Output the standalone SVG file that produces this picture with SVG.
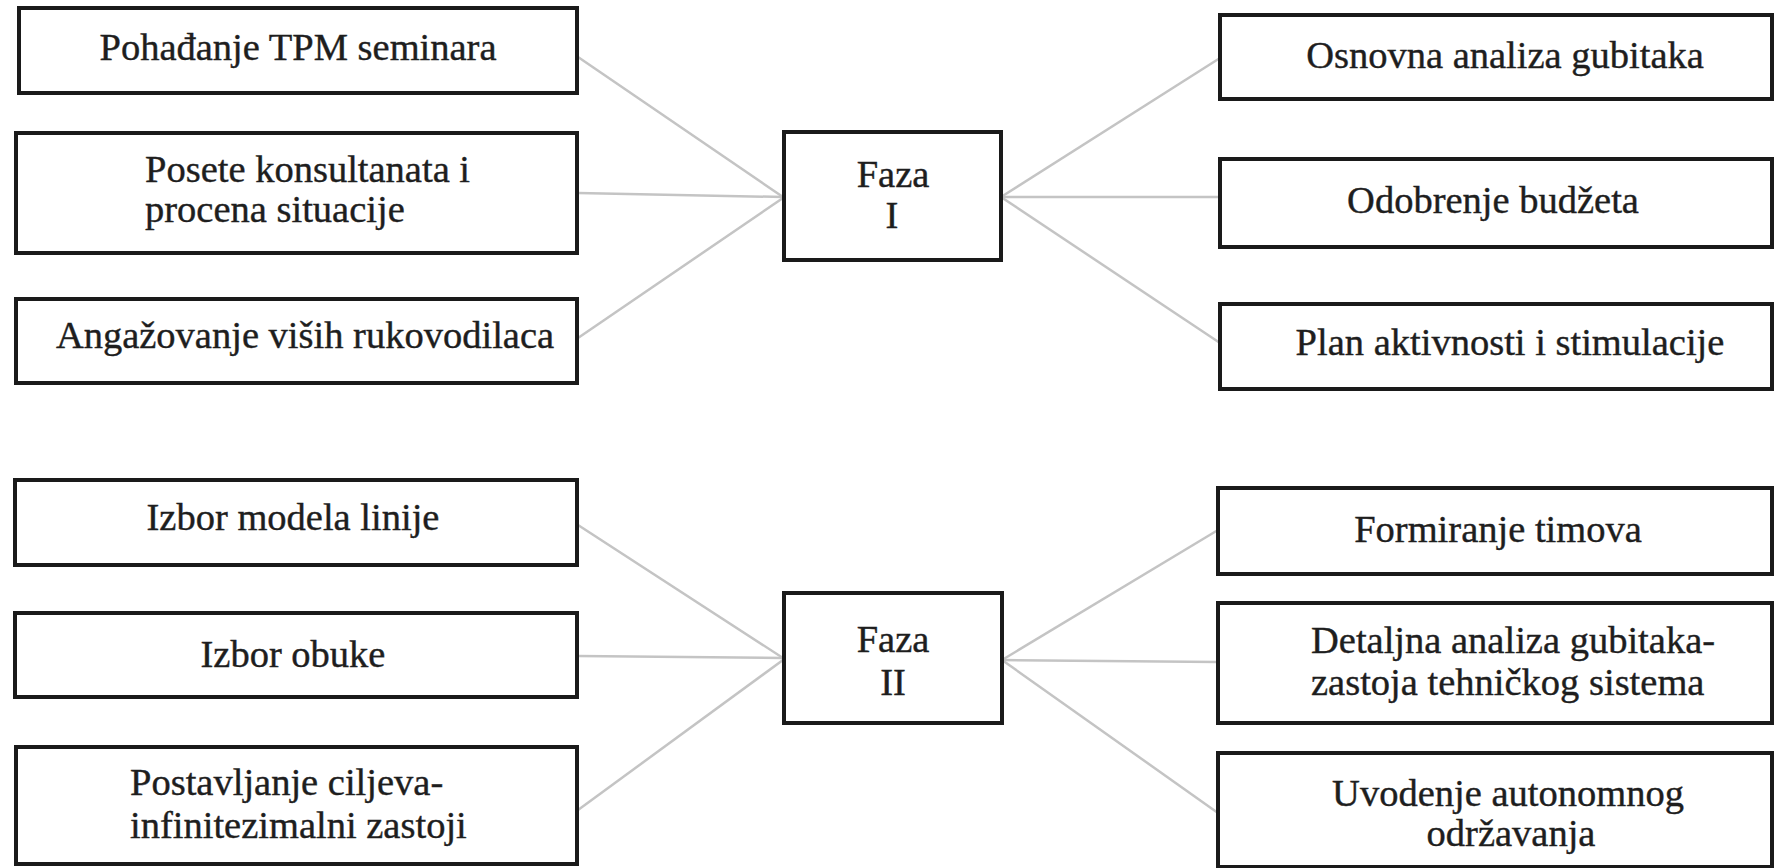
<svg xmlns="http://www.w3.org/2000/svg" width="1775" height="868" viewBox="0 0 1775 868">
<style>
.box{fill:#fff;stroke:#1a1a1a;stroke-width:4}
.t{font-family:'Liberation Serif','Times New Roman',serif;font-size:38.5px;fill:#1e1e1e;stroke:#1e1e1e;stroke-width:0.4}
.c{text-anchor:middle}
.ln{stroke:#c4c4c4;stroke-width:2.5;fill:none}
</style>
<rect width="1775" height="868" fill="#fff"/>
<g id="connectors">
<line class="ln" x1="578" y1="57" x2="783" y2="197"/>
<line class="ln" x1="578" y1="193" x2="783" y2="197"/>
<line class="ln" x1="578" y1="338" x2="783" y2="198"/>
<line class="ln" x1="1001" y1="197" x2="1220" y2="58"/>
<line class="ln" x1="1001" y1="197" x2="1220" y2="197"/>
<line class="ln" x1="1001" y1="197" x2="1220" y2="343"/>
<line class="ln" x1="578" y1="525" x2="783" y2="658"/>
<line class="ln" x1="578" y1="656" x2="783" y2="658"/>
<line class="ln" x1="578" y1="810" x2="783" y2="660"/>
<line class="ln" x1="1002" y1="660" x2="1218" y2="530"/>
<line class="ln" x1="1002" y1="660" x2="1218" y2="662"/>
<line class="ln" x1="1002" y1="660" x2="1218" y2="813"/>
</g>
<g id="n-l1"><rect class="box" x="19" y="8" width="558" height="85"/><text class="t c" x="298" y="60">Pohađanje TPM seminara</text></g>
<g id="n-l2"><rect class="box" x="16" y="133" width="561" height="120"/><text class="t" x="145" y="182">Posete konsultanata i</text><text class="t" x="145" y="222">procena situacije</text></g>
<g id="n-l3"><rect class="box" x="16" y="299" width="561" height="84"/><text class="t c" x="305" y="348">Angažovanje viših rukovodilaca</text></g>
<g id="n-f1"><rect class="box" x="784" y="132" width="217" height="128"/><text class="t c" x="893" y="187">Faza</text><text class="t c" x="892" y="228">I</text></g>
<g id="n-r1"><rect class="box" x="1220" y="15" width="552" height="84"/><text class="t c" x="1505" y="68">Osnovna analiza gubitaka</text></g>
<g id="n-r2"><rect class="box" x="1220" y="159" width="552" height="88"/><text class="t c" x="1493" y="213">Odobrenje budžeta</text></g>
<g id="n-r3"><rect class="box" x="1220" y="304" width="552" height="85"/><text class="t c" x="1510" y="355">Plan aktivnosti i stimulacije</text></g>
<g id="n-l4"><rect class="box" x="15" y="480" width="562" height="85"/><text class="t c" x="293" y="530">Izbor modela linije</text></g>
<g id="n-l5"><rect class="box" x="15" y="613" width="562" height="84"/><text class="t c" x="293" y="667">Izbor obuke</text></g>
<g id="n-l6"><rect class="box" x="16" y="747" width="561" height="117"/><text class="t" x="130" y="795">Postavljanje ciljeva-</text><text class="t" x="130" y="838">infinitezimalni zastoji</text></g>
<g id="n-f2"><rect class="box" x="784" y="593" width="218" height="130"/><text class="t c" x="893" y="652">Faza</text><text class="t c" x="893" y="695">II</text></g>
<g id="n-r4"><rect class="box" x="1218" y="488" width="554" height="86"/><text class="t c" x="1498" y="542">Formiranje timova</text></g>
<g id="n-r5"><rect class="box" x="1218" y="603" width="554" height="120"/><text class="t" x="1311" y="653">Detaljna analiza gubitaka-</text><text class="t" x="1311" y="695">zastoja tehničkog sistema</text></g>
<g id="n-r6"><rect class="box" x="1218" y="753" width="554" height="114"/><text class="t c" x="1508" y="806">Uvodenje autonomnog</text><text class="t c" x="1511" y="846">održavanja</text></g>
</svg>
